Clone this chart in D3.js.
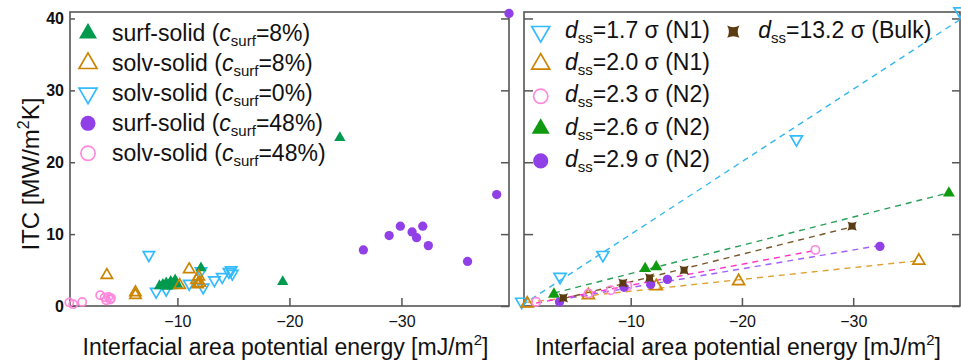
<!DOCTYPE html>
<html>
<head>
<meta charset="utf-8">
<script src="https://cdn.jsdelivr.net/npm/d3@7"></script>
<style>
body { margin: 0; background: #fff; }
svg { display: block; font-family: "Liberation Sans", Arial, sans-serif; }
</style>
</head>
<body>
<svg></svg>
<script>
// values are [interfacial area potential energy (mJ/m2), ITC (MW/m2K)]
var surfSolid8 = [[-24.5,23.4],[-12.1,5.3],[-19.4,3.36],[-8.4,2.8],[-8.7,3.0],[-9.0,3.2],[-9.2,2.9],
                  [-9.4,3.4],[-9.6,3.1],[-9.8,3.6],[-10.0,3.0],[-9.1,2.7],[-9.5,2.8]];
var solvSolid8 = [[-3.7,4.3],[-6.25,1.9],[-6.25,1.5],[-11.05,5.1],[-11.7,3.6],[-11.9,4.1],
                  [-12.0,3.2],[-11.8,3.0],[-10.2,2.9]];
var solvSolid0 = [[-7.45,7.1],[-8.1,2.0],[-9.0,2.3],[-11.05,3.1],[-12.3,2.6],[-13.3,3.6],[-14.0,4.05],
                  [-14.6,4.75],[-14.9,4.5],[-14.8,5.0],[-12.1,4.85]];
var surfSolid48 = [[-38.5,15.5],[-29.9,11.1],[-31.9,11.1],[-28.9,9.8],[-30.95,10.3],[-31.35,9.5],
                   [-32.4,8.4],[-26.6,7.8],[-35.9,6.2],[-39.6,40.7]];
var solvSolid48 = [[-0.35,0.5],[-0.7,0.25],[-1.5,0.57],[-3.1,1.5],[-3.5,1.2],[-3.85,1.27],
                   [-4.07,1.1],[-3.65,0.8],[-4.0,0.9]];

var dss17 = [[-0.2,0.6],[-3.65,4.05],[-7.5,7.1],[-24.9,23.2],[-39.6,41.0]];
var dss20 = [[-0.7,0.35],[-6.2,1.5],[-12.3,2.76],[-19.7,3.45],[-35.9,6.3]];
var dss23 = [[-1.5,0.57],[-6.2,1.74],[-8.2,2.2],[-9.7,2.76],[-26.6,7.8]];
var dss26 = [[-3.1,1.64],[-11.3,5.2],[-12.3,5.45],[-38.6,15.7]];
var dss29 = [[-3.6,0.57],[-9.4,2.6],[-11.8,3.0],[-13.3,3.7],[-32.4,8.3]];
var dss132 = [[-3.95,1.13],[-9.3,3.2],[-11.7,3.9],[-14.8,5.0],[-29.9,11.1]];

var xTicks = [-10, -20, -30];
var yTicks = [0, 10, 20, 30, 40];

var leftLabels = ["surf-solid (", "solv-solid (", "solv-solid (", "surf-solid (", "solv-solid ("];
var leftPct = ["=8%)", "=8%)", "=0%)", "=48%)", "=48%)"];
var rightLabels = ["=1.7 \u03c3 (N1)", "=2.0 \u03c3 (N1)", "=2.3 \u03c3 (N2)", "=2.6 \u03c3 (N2)", "=2.9 \u03c3 (N2)", "=13.2 \u03c3 (Bulk)"];

var frameColor = "#555";

var svg = d3.select("svg")
    .attr("width", 961)
    .attr("height", 364);

var yScale = d3.scaleLinear().domain([0, 40.9]).range([306, 12]);
var xLeft = d3.scaleLinear().domain([-0.41, -39.6]).range([70, 509]);
var xRight = d3.scaleLinear().domain([-0.41, -39.6]).range([524, 960]);

//square with pinched sides, for the bulk series
var symbolPinch = {
    draw: function(ctx, size) {
        var s = Math.sqrt(size) / 2, k = s * 0.45;
        ctx.moveTo(-s, -s);
        ctx.quadraticCurveTo(0, -k, s, -s);
        ctx.quadraticCurveTo(k, 0, s, s);
        ctx.quadraticCurveTo(0, k, -s, s);
        ctx.quadraticCurveTo(-k, 0, -s, -s);
        ctx.closePath();
    }
};

var green = "#009a4e", orange = "#cc8400", blue = "#33bbff", purple = "#9040e6", pink = "#ff88dd";
var green2 = "#0f9a0f", brown = "#5a3c10";

var st = {
    surf8:  {shape: d3.symbolTriangle, color: green, open: false, size: 55, big: 140},
    solv8:  {shape: d3.symbolTriangle, color: orange, open: true, size: 55, big: 140},
    solv0:  {shape: d3.symbolTriangle, color: blue, open: true, flip: true, size: 55, big: 140},
    surf48: {shape: d3.symbolCircle, color: purple, open: false, size: 68, big: 180},
    solv48: {shape: d3.symbolCircle, color: pink, open: true, size: 52, big: 160},
    d17:  {shape: d3.symbolTriangle, color: blue, open: true, flip: true, size: 62, big: 140, line: "#33b8f0"},
    d20:  {shape: d3.symbolTriangle, color: orange, open: true, size: 62, big: 140, line: "#e0a030"},
    d23:  {shape: d3.symbolCircle, color: pink, open: true, size: 55, big: 160, line: "#ff30c8"},
    d26:  {shape: d3.symbolTriangle, color: green2, open: false, size: 62, big: 140, line: "#2a9f5a"},
    d29:  {shape: d3.symbolCircle, color: purple, open: false, size: 68, big: 180, line: "#a060ff"},
    d132: {shape: symbolPinch, color: brown, open: false, size: 85, big: 150, line: "#7a5528"}
};

function marker(g, x, y, s, big) {
    g.append("path")
        .attr("d", d3.symbol().type(s.shape).size(big ? s.big : s.size)())
        .attr("transform", "translate(" + x + "," + y + ")" + (s.flip ? " rotate(180)" : ""))
        .attr("fill", s.open ? "none" : s.color)
        .attr("stroke", s.open ? s.color : "none")
        .attr("stroke-width", 1.7);
}

function frame(x, showY) {
    var x0 = x.range()[0], x1 = x.range()[1];
    var g = svg.append("g");
    g.append("rect")
        .attr("x", x0).attr("y", yScale.range()[1])
        .attr("width", x1 - x0).attr("height", yScale.range()[0] - yScale.range()[1])
        .attr("fill", "none").attr("stroke", frameColor).attr("stroke-width", 1.6);

    var ax = g.append("g").attr("transform", "translate(0," + yScale.range()[0] + ")")
        .call(d3.axisBottom(x).tickValues(xTicks).tickSize(-8).tickPadding(10));
    ax.selectAll("text").attr("font-size", 16).attr("fill", "#111");

    var ayl = g.append("g").attr("transform", "translate(" + x0 + ",0)")
        .call(d3.axisLeft(yScale).tickValues(yTicks).tickSize(showY ? -5 : -9).tickPadding(6));
    if (showY) {
        ayl.selectAll("text").attr("font-size", 16).attr("font-weight", "bold").attr("fill", "#111");
    } else {
        ayl.selectAll("text").remove();
    }
    g.append("g").attr("transform", "translate(" + x1 + ",0)")
        .call(d3.axisRight(yScale).tickValues(yTicks).tickSize(-8))
        .selectAll("text").remove();

    g.selectAll(".domain").remove();
    g.selectAll(".tick line").attr("stroke", frameColor).attr("stroke-width", 1.5);
    g.selectAll("text").attr("font-family", null);

    //x axis title
    var t = g.append("text")
        .attr("x", (x0 + x1) / 2 - 4).attr("y", 355)
        .attr("text-anchor", "middle").attr("font-size", 23).attr("fill", "#111")
        .text("Interfacial area potential energy [mJ/m");
    t.append("tspan").attr("dy", -10).attr("font-size", 15).text("2");
    t.append("tspan").attr("dy", 10).text("]");
}

frame(xLeft, true);
frame(xRight, false);

//y axis title
var yt = svg.append("text")
    .attr("transform", "translate(38.5,174) rotate(-90)")
    .attr("text-anchor", "middle").attr("font-size", 24).attr("fill", "#111")
    .text("ITC [MW/m");
yt.append("tspan").attr("dy", -10).attr("font-size", 16).text("2");
yt.append("tspan").attr("dy", 10).text("K]");

//left panel points
var gl = svg.append("g");
[[solvSolid0, st.solv0], [solvSolid48, st.solv48], [surfSolid8, st.surf8],
 [solvSolid8, st.solv8], [surfSolid48, st.surf48]].forEach(function(d) {
    d[0].forEach(function(p) { marker(gl, xLeft(p[0]), yScale(p[1]), d[1]); });
});

//left legend
var leftKeys = [st.surf8, st.solv8, st.solv0, st.surf48, st.solv48];
leftKeys.forEach(function(s, i) {
    var y = 33.3 + i * 30;
    marker(svg, 88, y, s, true);
    var t = svg.append("text").attr("x", 112).attr("y", y + 7.5)
        .attr("font-size", 23).attr("fill", "#111").text(leftLabels[i]);
    t.append("tspan").attr("font-style", "italic").text("c");
    t.append("tspan").attr("dy", 5).attr("font-size", 15).text("surf");
    t.append("tspan").attr("dy", -5).text(leftPct[i]);
});

//right panel: dashed fits then points
var rightSeries = [[dss17, st.d17], [dss20, st.d20], [dss23, st.d23], [dss26, st.d26], [dss29, st.d29], [dss132, st.d132]];
var gr = svg.append("g");
rightSeries.forEach(function(d) {
    var pts = d[0];
    var mx = d3.mean(pts, function(p) { return p[0]; });
    var my = d3.mean(pts, function(p) { return p[1]; });
    var sxy = d3.sum(pts, function(p) { return (p[0] - mx) * (p[1] - my); });
    var sxx = d3.sum(pts, function(p) { return (p[0] - mx) * (p[0] - mx); });
    var b = sxy / sxx, a = my - b * mx;
    var ext = d3.extent(pts, function(p) { return p[0]; });
    gr.append("line")
        .attr("x1", xRight(ext[1])).attr("y1", yScale(a + b * ext[1]))
        .attr("x2", xRight(ext[0])).attr("y2", yScale(a + b * ext[0]))
        .attr("stroke", d[1].line).attr("stroke-width", 1.4)
        .attr("stroke-dasharray", "6,5");
});
rightSeries.forEach(function(d) {
    d[0].forEach(function(p) { marker(gr, xRight(p[0]), yScale(p[1]), d[1]); });
});

//right legend
var rightKeys = [st.d17, st.d20, st.d23, st.d26, st.d29, st.d132];
rightKeys.forEach(function(s, i) {
    var mx = i < 5 ? 540.7 : 733.3;
    var tx = i < 5 ? 565 : 758.3;
    var y = i < 5 ? 31.7 + i * 32.3 : 31.7;
    marker(svg, mx, y, s, true);
    var t = svg.append("text").attr("x", tx).attr("y", y + 6)
        .attr("font-size", 23).attr("fill", "#111");
    t.append("tspan").attr("font-style", "italic").text("d");
    t.append("tspan").attr("dy", 5).attr("font-size", 15).text("ss");
    t.append("tspan").attr("dy", -5).text(rightLabels[i]);
});
</script>
</body>
</html>
